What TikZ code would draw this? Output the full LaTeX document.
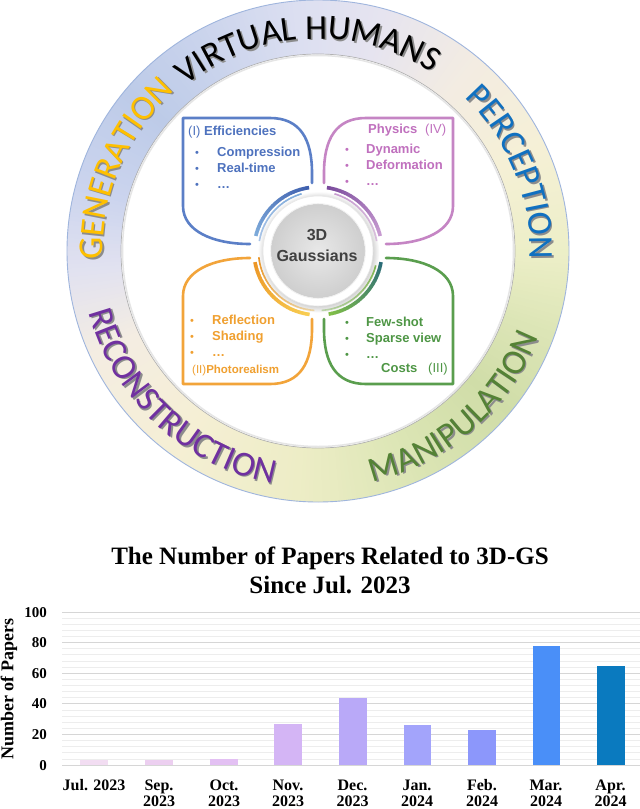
\documentclass[tikz,border=0pt]{standalone}
\usepackage{fontspec}
\setmainfont{Liberation Sans}
\newfontfamily\ringfont{Carlito}
\newfontfamily\chartfont{Liberation Serif}
\usetikzlibrary{decorations.text,shadows}

\definecolor{tblue}{HTML}{4E72BE}
\definecolor{pblue}{HTML}{5B7FC7}
\definecolor{tpurple}{HTML}{C070BE}
\definecolor{ppurple}{HTML}{C585C4}
\definecolor{torange}{HTML}{F0A030}
\definecolor{porange}{HTML}{F2A43A}
\definecolor{tgreen}{HTML}{4E9645}
\definecolor{pgreen}{HTML}{5A9E4E}
\definecolor{genc}{HTML}{FFC000}
\definecolor{perc}{HTML}{1070C0}
\definecolor{recc}{HTML}{7030A0}
\definecolor{manc}{HTML}{548235}
\definecolor{shadowc}{HTML}{8C8C8C}
\definecolor{rimc}{HTML}{9FB5DD}

\definecolor{rc0}{HTML}{EDEFC8}
\definecolor{rc25}{HTML}{F5F0D6}
\definecolor{rc50}{HTML}{F3ECE2}
\definecolor{rc75}{HTML}{E6E4F0}
\definecolor{rc95}{HTML}{DCDFF1}
\definecolor{rc120}{HTML}{C9D3EC}
\definecolor{rc140}{HTML}{BDCBE8}
\definecolor{rc165}{HTML}{CBD4EE}
\definecolor{rc185}{HTML}{E2E2F0}
\definecolor{rc205}{HTML}{F4EDE2}
\definecolor{rc235}{HTML}{F5EFD4}
\definecolor{rc265}{HTML}{EDEDC6}
\definecolor{rc295}{HTML}{DBE5B4}
\definecolor{rc320}{HTML}{D0DDA8}
\definecolor{rc340}{HTML}{DCE5B6}

\definecolor{ab1}{HTML}{3E5FAE}
\definecolor{ab2}{HTML}{7DAADA}
\definecolor{ab3}{HTML}{A9C4E8}
\definecolor{ap1}{HTML}{7A4B9C}
\definecolor{ap2}{HTML}{C79AD0}
\definecolor{ap3}{HTML}{E2C6E6}
\definecolor{ag1}{HTML}{2B6C78}
\definecolor{ag2}{HTML}{80BE48}
\definecolor{ag3}{HTML}{C4E0B0}
\definecolor{ao1}{HTML}{EC9626}
\definecolor{ao2}{HTML}{F8CD52}
\definecolor{ao3}{HTML}{FBE0A8}

\definecolor{b1}{HTML}{F2DDF2}
\definecolor{b2}{HTML}{ECCFF0}
\definecolor{b3}{HTML}{E3C0F3}
\definecolor{b4}{HTML}{D4B5F5}
\definecolor{b5}{HTML}{B9A9F8}
\definecolor{b6}{HTML}{A3A4FB}
\definecolor{b7}{HTML}{8C97FB}
\definecolor{b8}{HTML}{4A8FF8}
\definecolor{b9}{HTML}{0A7ABF}

\newcommand\rfont{\ringfont\fontsize{35}{40}\selectfont}
\newcommand\ringlabel[5]{%
  \path[decorate, decoration={text along path, text align=center, text color=shadowc, text={|\rfont|#1}}]
    ([shift={(#3:#5)}]CS) arc[start angle=#3, end angle=#4, radius=#5];
  \path[decorate, decoration={text along path, text align=center, text color=#2, text={|\rfont|#1}}]
    ([shift={(#3:#5)}]C) arc[start angle=#3, end angle=#4, radius=#5];
}
\newcommand\gradarc[6]{%
  \foreach \k in {0,...,23}{
    \pgfmathsetmacro\sa{#2+(#3-#2)*\k/24}
    \pgfmathsetmacro\ea{#2+(#3-#2)*(\k+1.15)/24}
    \pgfmathtruncatemacro\pp{100-100*\k/23}
    \colorlet{arcc}{#4!\pp!#5}
    \draw[line width=#6, arcc] ([shift={(\sa:#1)}]C) arc[start angle=\sa, end angle=\ea, radius=#1];
  }}

\begin{document}
\begin{tikzpicture}[x=1pt,y=1pt,
  ptxt/.style={inner sep=0pt, anchor=base west, font=\fontsize{13}{15}\selectfont\bfseries},
  pbul/.style={inner sep=0pt, anchor=base, font=\fontsize{11}{13}\selectfont},
  petalline/.style={line width=2.6pt, line join=round, line cap=round},
  xlab/.style={inner sep=0pt, anchor=base, font=\chartfont\bfseries\fontsize{16}{18}\selectfont},
  ylab/.style={inner sep=0pt, anchor=base east, font=\chartfont\bfseries\fontsize{15}{17}\selectfont}]
\useasboundingbox (0,0) rectangle (640,-809);
\fill[white] (0,0) rectangle (640,-809);
\coordinate (C) at (318,-251);
\coordinate (CS) at (319.6,-252.6);

% ---- gradient ring
\foreach \aa/\bb/\caa/\cbb in {0/25/rc0/rc25, 25/50/rc25/rc50, 50/75/rc50/rc75, 75/95/rc75/rc95, 95/120/rc95/rc120, 120/140/rc120/rc140, 140/165/rc140/rc165, 165/185/rc165/rc185, 185/205/rc185/rc205, 205/235/rc205/rc235, 235/265/rc235/rc265, 265/295/rc265/rc295, 295/320/rc295/rc320, 320/340/rc320/rc340, 340/360/rc340/rc0}{
  \pgfmathtruncatemacro\nn{\bb-\aa}
  \foreach \i in {1,...,\nn}{
    \pgfmathsetmacro\ss{\aa+\i-1}
    \pgfmathsetmacro\ee{\aa+\i+0.4}
    \pgfmathtruncatemacro\pq{100*(\i-0.5)/\nn}
    \colorlet{segc}{\cbb!\pq!\caa}
    \fill[segc] ([shift={(\ss:251)}]C) arc[start angle=\ss, end angle=\ee, radius=251]
      -- ([shift={(\ee:197)}]C) arc[start angle=\ee, end angle=\ss, radius=197] -- cycle;
  }
}
\draw[rimc, line width=0.9pt] (C) circle[radius=251];
\draw[gray!60, line width=0.7pt] (C) circle[radius=197];
\draw[gray!20, line width=1.5pt] (C) circle[radius=195.5];

% ---- ring labels
\ringlabel{VIRTUAL HUMANS}{black}{153}{33}{212}
\ringlabel{GENERATION}{genc}{197}{117}{215}
\ringlabel{PERCEPTION}{perc}{62}{-18}{212}
\ringlabel{RECONSTRUCTION}{recc}{182}{272}{237}
\ringlabel{MANIPULATION}{manc}{270}{352}{237}

% ---- petals
\foreach \sx/\sy/\pc in {1/1/pblue, -1/1/ppurple, 1/-1/porange, -1/-1/pgreen}{
  \begin{scope}[shift={(C)}, xscale=\sx, yscale=\sy]
    \draw[petalline, \pc] (-6,68) -- (-6,78) .. controls (-6,112) and (-18,133) .. (-48,133)
      -- (-135,133) -- (-135,45) .. controls (-135,20) and (-105,7) .. (-68,7);
  \end{scope}
}

% ---- coloured arcs round the centre
\gradarc{64}{98}{166}{ab1}{ab2}{3.6pt}
\gradarc{59.5}{106}{170}{ab2}{ab3}{1.6pt}
\gradarc{64}{82}{14}{ap1}{ap2}{3.6pt}
\gradarc{59.5}{74}{10}{ap2}{ap3}{1.6pt}
\gradarc{64}{-10}{-80}{ag1}{ag2}{3.6pt}
\gradarc{59.5}{-14}{-86}{ag2}{ag3}{1.6pt}
\gradarc{64}{190}{262}{ao1}{ao2}{3.6pt}
\gradarc{59.5}{186}{266}{ao1}{ao3}{1.6pt}

% ---- centre disc
\fill[white, circular drop shadow={shadow scale=1.1, shadow xshift=0.6pt, shadow yshift=-1pt, opacity=0.45}] (C) circle[radius=55];
\draw[gray!18, line width=0.6pt] (C) circle[radius=55];
\shade[inner color=gray!18, outer color=gray!38] (C) circle[radius=47];
\draw[gray!12, line width=0.8pt] (C) circle[radius=47.4];
\node[inner sep=0pt, font=\fontsize{16}{18}\selectfont\bfseries, text=black!75] (t3d) at (317,-235) {3D};
\node[inner sep=0pt, font=\fontsize{16}{18}\selectfont\bfseries, text=black!75] (tgau) at (317,-256) {Gaussians};

% ---- petal texts: (I) efficiencies
\node[ptxt, tblue] (effh) at (188,-135.5) {{\mdseries (I)} Efficiencies};
\node[pbul, tblue] (effb1) at (197,-156.5) {•};
\node[pbul, tblue] (effb2) at (197,-172.5) {•};
\node[pbul, tblue] (effb3) at (197,-188.5) {•};
\node[ptxt, tblue] (eff1) at (217,-156.5) {Compression};
\node[ptxt, tblue] (eff2) at (217,-172.5) {Real-time};
\node[ptxt, tblue] (eff3) at (217,-188.5) {…};
% (IV) physics
\node[ptxt, tpurple] (phyh) at (368,-133.5) {Physics};
\node[ptxt, tpurple, font=\fontsize{13}{15}\selectfont] (phyn) at (425,-133.5) {(IV)};
\node[pbul, tpurple] (phyb1) at (347,-153.5) {•};
\node[pbul, tpurple] (phyb2) at (347,-169.5) {•};
\node[pbul, tpurple] (phyb3) at (347,-185.5) {•};
\node[ptxt, tpurple] (phy1) at (366,-153.5) {Dynamic};
\node[ptxt, tpurple] (phy2) at (366,-169.5) {Deformation};
\node[ptxt, tpurple] (phy3) at (366,-185.5) {…};
% (II) photorealism
\node[pbul, torange] (phob1) at (192,-324.5) {•};
\node[pbul, torange] (phob2) at (192,-340.5) {•};
\node[pbul, torange] (phob3) at (192,-356.5) {•};
\node[ptxt, torange] (pho1) at (212,-324.5) {Reflection};
\node[ptxt, torange] (pho2) at (212,-340.5) {Shading};
\node[ptxt, torange] (pho3) at (212,-356.5) {…};
\node[ptxt, torange, font=\fontsize{11.5}{13}\selectfont\bfseries] (phoh) at (192,-373) {{\mdseries (II)}Photorealism};
% (III) costs
\node[pbul, tgreen] (cosb1) at (347,-326.5) {•};
\node[pbul, tgreen] (cosb2) at (347,-342.5) {•};
\node[pbul, tgreen] (cosb3) at (347,-358.5) {•};
\node[ptxt, tgreen] (cos1) at (366,-326.5) {Few-shot};
\node[ptxt, tgreen] (cos2) at (366,-342.5) {Sparse view};
\node[ptxt, tgreen] (cos3) at (366,-358.5) {…};
\node[ptxt, tgreen] (cosh) at (381,-372.5) {Costs};
\node[ptxt, tgreen, font=\fontsize{13}{15}\selectfont] (cosn) at (428,-372.5) {(III)};

% ---- chart
\node[inner sep=0pt, anchor=base, font=\chartfont\bfseries\fontsize{25}{28}\selectfont] (title1) at (330,-564) {The Number of Papers Related to 3D-GS};
\node[inner sep=0pt, anchor=base, font=\chartfont\bfseries\fontsize{25}{28}\selectfont] (title2) at (330,-593) {Since Jul. 2023};
\foreach \v in {0,4,...,100}{
  \draw[gray!14, line width=0.7pt] (62,{-765+1.53*\v}) -- (640,{-765+1.53*\v});
}
\foreach \v in {0,20,...,100}{
  \draw[gray!32, line width=0.9pt] (62,{-765+1.53*\v}) -- (640,{-765+1.53*\v});
  \node[ylab] (yt\v) at (47,{-770+1.53*\v}) {\v};
}
\foreach \xl/\v/\bc in {80/3/b1, 145/3/b2, 210/4/b3, 274/27/b4, 339/44/b5, 403.5/26/b6, 468/23/b7, 532.5/78/b8, 597/65/b9}{
  \fill[\bc] (\xl,-765) rectangle ({\xl+27.5},{-765+1.53*\v});
}
\node[inner sep=0pt, rotate=90, font=\chartfont\bfseries\fontsize{18}{20}\selectfont] (ytitle) at (9,-689) {Number of Papers};
\node[xlab] (xjul) at (94,-790) {Jul. 2023};
\foreach \cx/\la/\lb/\nm in {159/Sep./2023/xsep, 224/Oct./2023/xoct, 288/Nov./2023/xnov, 352.5/Dec./2023/xdec, 417/Jan./2024/xjan, 482/Feb./2024/xfeb, 546/Mar./2024/xmar, 610.5/Apr./2024/xapr}{
  \node[xlab] (\nm a) at (\cx,-790) {\la};
  \node[xlab] (\nm b) at (\cx,-806) {\lb};
}
\end{tikzpicture}
\end{document}
